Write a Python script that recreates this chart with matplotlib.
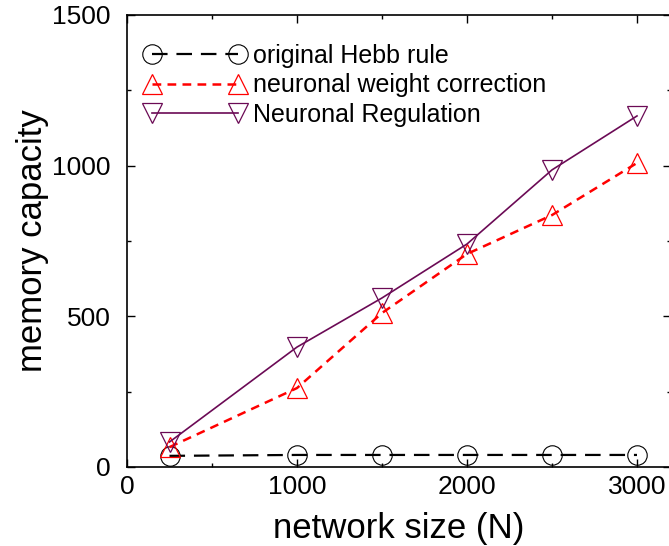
import matplotlib

matplotlib.use("Agg")
import matplotlib.pyplot as plt
from matplotlib.ticker import MultipleLocator

plt.rcParams["font.family"] = ["Liberation Sans", "DejaVu Sans"]

# data
network_size = [250, 1000, 1500, 2000, 2500, 3000]
hebb = [37, 40, 40, 40, 40, 40]
weight_correction = [66, 262, 511, 707, 836, 1009]
neuronal_regulation = [83, 398, 561, 740, 986, 1165]

labels = ["original Hebb rule", "neuronal weight correction", "Neuronal Regulation"]

fig = plt.figure(figsize=(6.69, 5.46), dpi=100)
# axes box: left spine at x=127px, bottom at y=467px, top at y=15px
ax = fig.add_axes([127 / 669, 79 / 546, 544 / 669, 452 / 546])

ax.plot(network_size, hebb, color="black", lw=1.6, dashes=(7, 4),
        marker="o", ms=14, mfc="none", mec="black", mew=0.8, label=labels[0])
ax.plot(network_size, weight_correction, color="#ff0000", lw=1.8, dashes=(3.5, 2.5),
        marker="^", ms=14, mfc="none", mec="#ff0000", mew=0.9, label=labels[1])
ax.plot(network_size, neuronal_regulation, color="#6b0a55", lw=1.2,
        marker="v", ms=14, mfc="none", mec="#6b0a55", mew=0.9, label=labels[2])

ax.set_xlim(0, 3200)
ax.set_ylim(0, 1500)
ax.xaxis.set_major_locator(MultipleLocator(1000))
ax.xaxis.set_minor_locator(MultipleLocator(500))
ax.yaxis.set_major_locator(MultipleLocator(500))
ax.yaxis.set_minor_locator(MultipleLocator(250))
ax.tick_params(which="both", direction="in", top=True, right=True, labelsize=19, width=1)
ax.tick_params(which="major", length=6)
ax.tick_params(which="minor", length=3)
ax.tick_params(axis="x", which="major", pad=6)
ax.tick_params(axis="y", which="major", pad=12)
for s in ax.spines.values():
    s.set_linewidth(1.2)

ax.set_xlabel("network size (N)", fontsize=25, labelpad=9)
ax.set_ylabel("memory capacity", fontsize=25, labelpad=2)

ax.legend(loc="upper left", frameon=False, fontsize=18, numpoints=2,
          handlelength=4.05, handletextpad=0.3, labelspacing=0.22,
          borderaxespad=0.3, bbox_to_anchor=(0.0, 0.975))

fig.savefig("out.png", dpi=100, facecolor="white")
plt.close(fig)
